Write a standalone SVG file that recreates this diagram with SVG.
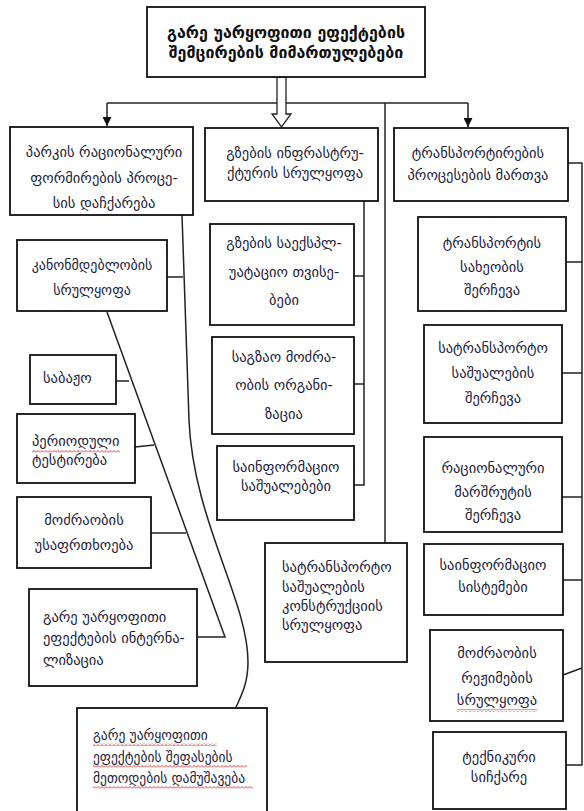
<svg xmlns="http://www.w3.org/2000/svg" width="584" height="811" viewBox="0 0 584 811">
<defs>
<style>
.box{fill:#fff;stroke:#111;stroke-width:1.8}
.t{font-family:"DejaVu Sans",sans-serif;font-size:14.5px;fill:#1c1c3a}
.s{font-size:13.5px}
.c{text-anchor:middle}
.ttl{font-family:"DejaVu Sans",sans-serif;font-size:16px;font-weight:bold;fill:#111;text-anchor:middle}
.ln{fill:none;stroke:#222;stroke-width:1.5}
.wv{fill:url(#wave)}
</style>
<pattern id="wave" x="0" y="0" width="4" height="3" patternUnits="userSpaceOnUse">
<path d="M0,2.5 L2,0.5 L4,2.5" fill="none" stroke="#e02020" stroke-width="0.9"/>
</pattern>
<marker id="ah" viewBox="0 0 10 10" refX="10" refY="5" markerWidth="9" markerHeight="9" markerUnits="userSpaceOnUse" orient="auto">
<path d="M0,0 L10,5 L0,10 Z" fill="#111"/>
</marker>
</defs>
<rect width="584" height="811" fill="#fff"/>

<g id="connectors">
<path class="ln" d="M107,103 H468"/>
<path class="ln" d="M107,103 V126" marker-end="url(#ah)"/>
<path class="ln" d="M468,103 V127" marker-end="url(#ah)"/>
<path class="ln" d="M385,103 V543"/>
<polygon points="277,77 286,77 286,114 291,114 281.5,127 272,114 277,114" fill="#fff" stroke="#222" stroke-width="1.3"/>
<path class="ln" d="M364,201 V485 H354 M354,276 H364 M354,384 H364"/>
<path class="ln" d="M568,163 H582 V765 H566 M566,262 H582 M562,373 H582 M562,497 H582 M563,580 H582 M563,675 L582,668"/>
<path class="ln" d="M182,215 L189,420 C193,520 248,600 248,662 C248,688 238,700 233,715"/>
<path class="ln" d="M167,277 H183"/>
<path class="ln" d="M107,312 L225,637 H198"/>
<path class="ln" d="M116,381 H129"/>
<path class="ln" d="M135,447 L154,445"/>
<path class="ln" d="M151,533 H186"/>
</g>

<g id="title">
<rect class="box" x="147" y="7" width="278" height="70"/>
<text class="ttl" x="286" y="38">გარე უარყოფითი ეფექტების</text>
<text class="ttl" x="286" y="58">შემცირების მიმართულებები</text>
</g>

<g id="n-fleet">
<rect class="box" x="10" y="127" width="183" height="88"/>
<text class="t c" x="104" y="157">პარკის რაციონალური</text>
<text class="t c" x="104" y="183">ფორმირების პროცე-</text>
<text class="t c" x="104" y="208">სის დაჩქარება</text>
</g>

<g id="n-roads">
<rect class="box" x="205" y="128" width="173" height="73"/>
<text class="t c" x="295" y="158">გზების ინფრასტრუ-</text>
<text class="t c" x="295" y="178">ქტურის სრულყოფა</text>
</g>

<g id="n-process">
<rect class="box" x="394" y="128" width="174" height="73"/>
<text class="t c" x="478" y="158">ტრანსპორტირების</text>
<text class="t c" x="478" y="180">პროცესების მართვა</text>
</g>

<g id="n-law">
<rect class="box" x="17" y="240" width="150" height="71"/>
<text class="t c" x="92" y="270" style="font-size:14px">კანონმდებლობის</text>
<text class="t c" x="92" y="295" style="font-size:14px">სრულყოფა</text>
</g>

<g id="n-customs">
<rect class="box" x="30" y="355" width="86" height="49"/>
<text class="t" x="43" y="383">საბაჟო</text>
</g>

<g id="n-testing">
<rect class="box" x="17" y="414" width="118" height="69"/>
<text class="t" x="32" y="446">პერიოდული</text>
<rect class="wv" x="32" y="450" width="88" height="3"/>
<text class="t" x="32" y="465">ტესტირება</text>
</g>

<g id="n-safety">
<rect class="box" x="17" y="497" width="134" height="71"/>
<text class="t c" x="84" y="525">მოძრაობის</text>
<text class="t c" x="84" y="550">უსაფრთხოება</text>
</g>

<g id="n-intern">
<rect class="box" x="29" y="589" width="168" height="97"/>
<text class="t" x="43" y="622">გარე უარყოფითი</text>
<text class="t" x="43" y="643">ეფექტების ინტერნა-</text>
<text class="t" x="43" y="665">ლიზაცია</text>
</g>

<g id="n-methods">
<rect class="box" x="77" y="708" width="190" height="106"/>
<text class="t s" x="93" y="740">გარე უარყოფითი</text>
<text class="t s" x="93" y="762">ეფექტების შეფასების</text>
<text class="t s" x="93" y="783">მეთოდების დამუშავება</text>
<rect class="wv" x="93" y="743" width="124" height="3"/>
<rect class="wv" x="93" y="765" width="154" height="3"/>
<rect class="wv" x="93" y="786" width="160" height="3"/>
</g>

<g id="n-exploit">
<rect class="box" x="210" y="224" width="144" height="101"/>
<text class="t c" x="284" y="248">გზების საექსპლ-</text>
<text class="t c" x="284" y="277">უატაციო თვისე-</text>
<text class="t c" x="284" y="305">ბები</text>
</g>

<g id="n-traffic-org">
<rect class="box" x="212" y="337" width="142" height="97"/>
<text class="t c" x="284" y="362">საგზაო მოძრა-</text>
<text class="t c" x="284" y="390">ობის ორგანი-</text>
<text class="t c" x="284" y="419">ზაცია</text>
</g>

<g id="n-info-means">
<rect class="box" x="217" y="446" width="137" height="74"/>
<text class="t c" x="286" y="472">საინფორმაციო</text>
<text class="t c" x="286" y="491">საშუალებები</text>
</g>

<g id="n-construction">
<rect class="box" x="265" y="543" width="142" height="119"/>
<text class="t" x="282" y="572">სატრანსპორტო</text>
<text class="t" x="282" y="592">საშუალების</text>
<text class="t" x="282" y="611">კონსტრუქციის</text>
<text class="t" x="282" y="630">სრულყოფა</text>
</g>

<g id="n-mode">
<rect class="box" x="418" y="217" width="148" height="94"/>
<text class="t c" x="492" y="248">ტრანსპორტის</text>
<text class="t c" x="492" y="272">სახეობის</text>
<text class="t c" x="492" y="295">შერჩევა</text>
</g>

<g id="n-vehicle">
<rect class="box" x="424" y="325" width="138" height="98"/>
<text class="t c" x="493" y="353">სატრანსპორტო</text>
<text class="t c" x="493" y="378">საშუალების</text>
<text class="t c" x="493" y="403">შერჩევა</text>
</g>

<g id="n-route">
<rect class="box" x="424" y="437" width="138" height="95"/>
<text class="t c" x="493" y="473">რაციონალური</text>
<text class="t c" x="493" y="497">მარშრუტის</text>
<text class="t c" x="493" y="520">შერჩევა</text>
</g>

<g id="n-info-sys">
<rect class="box" x="424" y="544" width="139" height="71"/>
<text class="t c" x="493" y="570">საინფორმაციო</text>
<text class="t c" x="493" y="592">სისტემები</text>
</g>

<g id="n-regimes">
<rect class="box" x="430" y="630" width="133" height="91"/>
<text class="t c" x="497" y="658">მოძრაობის</text>
<text class="t c" x="497" y="683">რეჟიმების</text>
<text class="t c" x="497" y="705">სრულყოფა</text>
<rect class="wv" x="457" y="709" width="80" height="3"/>
</g>

<g id="n-speed">
<rect class="box" x="433" y="732" width="133" height="77"/>
<text class="t c" x="499" y="762">ტექნიკური</text>
<text class="t c" x="499" y="782">სიჩქარე</text>
</g>
</svg>
